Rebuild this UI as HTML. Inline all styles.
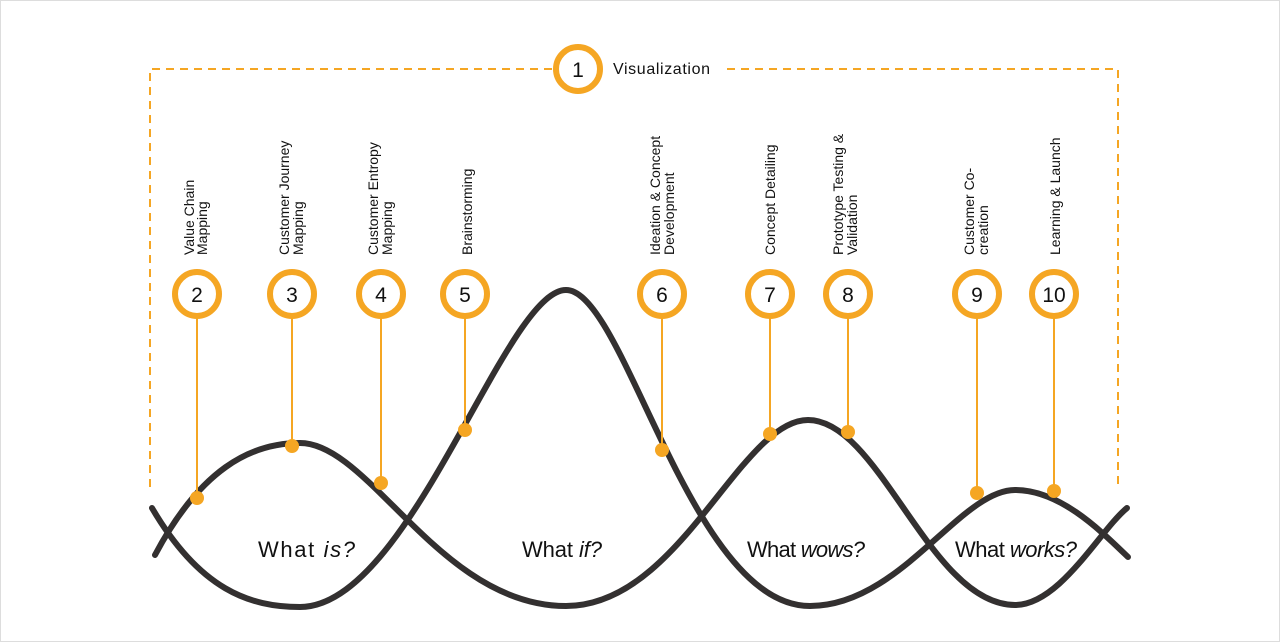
<!DOCTYPE html>
<html><head><meta charset="utf-8"><style>
html,body{margin:0;padding:0;background:#fff}
svg{display:block}
text{font-family:"Liberation Sans",sans-serif}
</style></head><body>
<svg width="1280" height="642" viewBox="0 0 1280 642" xmlns="http://www.w3.org/2000/svg">
<rect x="0.5" y="0.5" width="1279" height="641" fill="#fff" stroke="#ddd"/>
<g stroke="#f5a623" stroke-width="2" stroke-dasharray="8,6" fill="none">
<path d="M150,487 V69 H553"/>
<path d="M727,69 H1118 V487"/>
</g>
<g fill="none" stroke="#333030" stroke-width="6" stroke-linecap="round">
<path d="M152,508 C200,590 250,607 300,607 C410,607 505,290 566,290 C625,290 690,606 810,606 C900,606 960,490 1015,490 C1060,490 1100,530 1128,557"/>
<path d="M155,555 C200,470 250,443 300,443 C370,443 440,606 566,606 C680,606 740,420 808,420 C880,420 930,605 1015,605 C1060,605 1100,530 1127,508"/>
</g>
<g stroke="#f5a623" stroke-width="2">
<line x1="197" y1="316" x2="197" y2="498"/>
<line x1="292" y1="316" x2="292" y2="446"/>
<line x1="381" y1="316" x2="381" y2="483"/>
<line x1="465" y1="316" x2="465" y2="430"/>
<line x1="662" y1="316" x2="662" y2="450"/>
<line x1="770" y1="316" x2="770" y2="434"/>
<line x1="848" y1="316" x2="848" y2="432"/>
<line x1="977" y1="316" x2="977" y2="493"/>
<line x1="1054" y1="316" x2="1054" y2="491"/>
</g>
<g fill="#f5a623">
<circle cx="197" cy="498" r="7"/><circle cx="292" cy="446" r="7"/><circle cx="381" cy="483" r="7"/>
<circle cx="465" cy="430" r="7"/><circle cx="662" cy="450" r="7"/><circle cx="770" cy="434" r="7"/>
<circle cx="848" cy="432" r="7"/><circle cx="977" cy="493" r="7"/><circle cx="1054" cy="491" r="7"/>
</g>
<g fill="#fff" stroke="#f5a623" stroke-width="6">
<circle cx="578" cy="69" r="22"/>
<circle cx="197" cy="294" r="22"/><circle cx="292" cy="294" r="22"/><circle cx="381" cy="294" r="22"/>
<circle cx="465" cy="294" r="22"/><circle cx="662" cy="294" r="22"/><circle cx="770" cy="294" r="22"/>
<circle cx="848" cy="294" r="22"/><circle cx="977" cy="294" r="22"/><circle cx="1054" cy="294" r="22"/>
</g>
<g font-size="21" fill="#111" text-anchor="middle">
<text x="578" y="77">1</text>
<text x="197" y="302">2</text><text x="292" y="302">3</text><text x="381" y="302">4</text>
<text x="465" y="302">5</text><text x="662" y="302">6</text><text x="770" y="302">7</text>
<text x="848" y="302">8</text><text x="977" y="302">9</text><text x="1054" y="302">10</text>
</g>
<text x="613" y="74" font-size="16" fill="#111" textLength="97">Visualization</text>
<g font-size="14" fill="#111">
<text transform="translate(194,255) rotate(-90)">Value Chain</text>
<text transform="translate(207,255) rotate(-90)">Mapping</text>
<text transform="translate(289,255) rotate(-90)">Customer Journey</text>
<text transform="translate(303,255) rotate(-90)">Mapping</text>
<text transform="translate(378,255) rotate(-90)">Customer Entropy</text>
<text transform="translate(392,255) rotate(-90)">Mapping</text>
<text transform="translate(472,255) rotate(-90)">Brainstorming</text>
<text transform="translate(660,255) rotate(-90)">Ideation &amp; Concept</text>
<text transform="translate(674,255) rotate(-90)">Development</text>
<text transform="translate(775,255) rotate(-90)">Concept Detailing</text>
<text transform="translate(843,255) rotate(-90)">Prototype Testing &amp;</text>
<text transform="translate(857,255) rotate(-90)">Validation</text>
<text transform="translate(974,255) rotate(-90)">Customer Co-</text>
<text transform="translate(988,255) rotate(-90)">creation</text>
<text transform="translate(1060,255) rotate(-90)">Learning &amp; Launch</text>
</g>
<g font-size="22" fill="#111">
<text x="258" y="557" textLength="97">What <tspan font-style="italic">is?</tspan></text>
<text x="522" y="557" textLength="80">What <tspan font-style="italic">if?</tspan></text>
<text x="747" y="557" textLength="118">What <tspan font-style="italic">wows?</tspan></text>
<text x="955" y="557" textLength="122">What <tspan font-style="italic">works?</tspan></text>
</g>
</svg>
</body></html>
